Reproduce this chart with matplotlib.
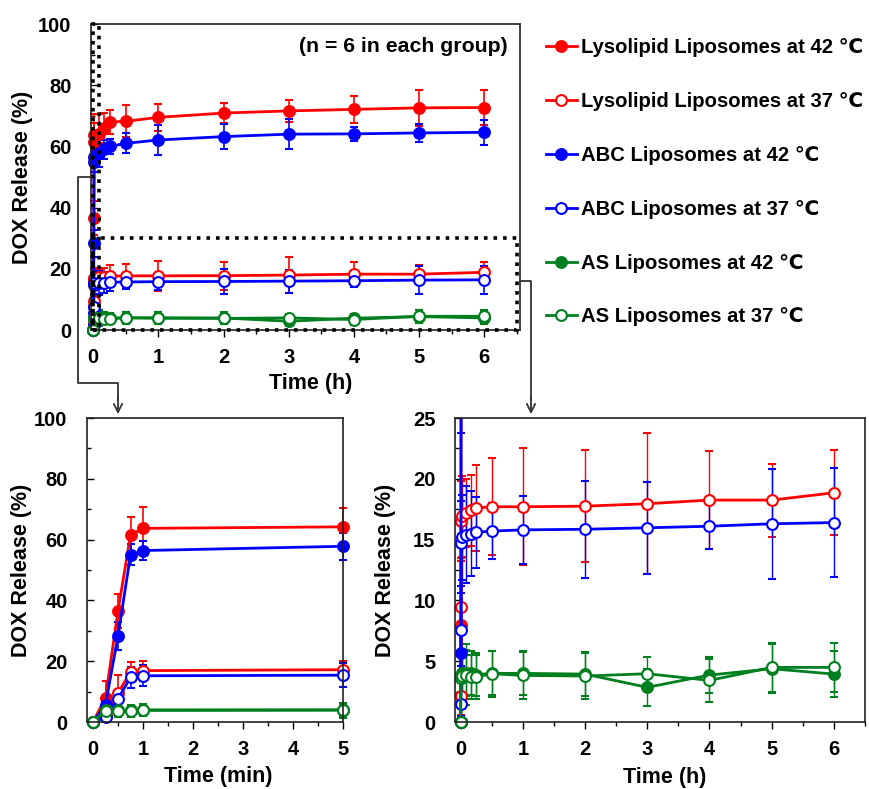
import numpy as np
import matplotlib
matplotlib.use("Agg")
import matplotlib.pyplot as plt
from matplotlib.lines import Line2D
from matplotlib.patches import Rectangle, FancyArrowPatch
from matplotlib.transforms import Bbox, TransformedBbox
from matplotlib.ticker import MultipleLocator

plt.rcParams['font.family'] = ['Liberation Sans', 'DejaVu Sans']
plt.rcParams['font.weight'] = 'bold'
plt.rcParams['axes.labelweight'] = 'bold'

# sampling times (min)
t_min = np.array([0, 0.25, 0.5, 0.75, 1, 5, 10, 15, 30, 60, 120, 180, 240, 300, 360])

# DOX release (%) and SD for each group
lyso42 = [0, 8.0, 36.5, 61.5, 63.7, 64.2, 66.0, 68.0, 68.2, 69.5, 70.9, 71.6, 72.1, 72.6, 72.7]
lyso42_sd = [0, 5.5, 5.5, 6.0, 7.0, 6.3, 5.0, 4.0, 5.2, 4.4, 3.3, 3.5, 4.4, 5.8, 5.8]
lyso37 = [0, 2.1, 9.45, 16.5, 16.9, 17.2, 17.4, 17.6, 17.7, 17.7, 17.75, 17.95, 18.25, 18.25, 18.85]
lyso37_sd = [0, 1.5, 6.0, 3.3, 3.3, 2.8, 2.9, 3.5, 4.0, 4.8, 4.6, 5.8, 4.0, 3.0, 3.5]
abc42 = [0, 5.7, 28.3, 55.0, 56.4, 57.8, 59.0, 60.0, 61.0, 62.1, 63.2, 64.0, 64.1, 64.4, 64.6]
abc42_sd = [0, 2.5, 4.5, 3.5, 3.0, 4.5, 3.0, 2.5, 3.3, 4.9, 4.2, 4.8, 2.3, 2.8, 4.0]
abc37 = [0, 1.5, 7.6, 14.7, 15.2, 15.4, 15.5, 15.6, 15.7, 15.8, 15.85, 15.97, 16.1, 16.3, 16.4]
abc37_sd = [0, 1.0, 3.0, 3.5, 3.5, 4.0, 3.5, 2.9, 2.3, 2.8, 4.0, 3.8, 1.9, 4.5, 4.5]
as42 = [0, 3.8, 3.8, 3.9, 4.0, 4.0, 4.0, 3.9, 4.0, 4.0, 3.94, 2.85, 3.86, 4.38, 3.94]
as42_sd = [0, 1.8, 1.8, 1.8, 1.8, 1.9, 1.8, 1.8, 1.8, 1.8, 1.8, 1.5, 1.5, 2.0, 1.9]
as37 = [0, 3.7, 3.6, 3.6, 3.8, 3.9, 3.7, 3.7, 3.97, 3.83, 3.78, 3.97, 3.42, 4.49, 4.49]
as37_sd = [0, 1.8, 1.8, 1.8, 1.8, 2.5, 1.8, 1.8, 1.9, 1.9, 1.9, 1.4, 1.8, 2.0, 2.0]

labels = ["Lysolipid Liposomes at 42 \u2103", "Lysolipid Liposomes at 37 \u2103",
          "ABC Liposomes at 42 \u2103", "ABC Liposomes at 37 \u2103",
          "AS Liposomes at 42 \u2103", "AS Liposomes at 37 \u2103"]

RED, BLUE, GREEN = '#ff0000', '#0000ff', '#007f1f'
groups = [
    (labels[0], lyso42, lyso42_sd, RED, True),
    (labels[1], lyso37, lyso37_sd, RED, False),
    (labels[2], abc42, abc42_sd, BLUE, True),
    (labels[3], abc37, abc37_sd, BLUE, False),
    (labels[4], as42, as42_sd, GREEN, True),
    (labels[5], as37, as37_sd, GREEN, False),
]

W, H = 870, 789
TICK_FS, LABEL_FS = 14.5, 15.5
fig = plt.figure(figsize=(W / 100, H / 100), dpi=100)


def px_axes(l, t, r, b):
    return fig.add_axes([l / W, 1 - b / H, (r - l) / W, (b - t) / H])


def draw(ax, x, n, lw=2.0, elw=1.2):
    # clip only at the top of the axes, markers sitting on the spines stay whole
    clip = TransformedBbox(Bbox([[-0.1, -0.1], [1.1, 1.0]]), ax.transAxes)
    handles = []
    for lab, y, sd, c, filled in groups:
        eb = ax.errorbar(x[:n], y[:n], yerr=sd[:n], color=c, lw=lw,
                         elinewidth=elw, capsize=3, capthick=elw,
                         marker='o', ms=7.8, mec=c, mew=1.5,
                         mfc=c if filled else 'white', label=lab)
        arts = [eb.lines[0]] + list(eb.lines[1]) + list(eb.lines[2])
        for a in arts:
            a.set_clip_path(None)
            a.set_clip_box(clip)
        handles.append(eb.lines[0])
    return handles


def style(ax, ymaj, ymin, ylab_x, xlab, xlab_y):
    ax.yaxis.set_major_locator(MultipleLocator(ymaj))
    ax.yaxis.set_minor_locator(MultipleLocator(ymin))
    ax.xaxis.set_major_locator(MultipleLocator(1))
    ax.xaxis.set_minor_locator(MultipleLocator(0.5))
    ax.tick_params(axis='y', which='both', direction='in', labelsize=TICK_FS, pad=14)
    ax.tick_params(axis='x', which='both', direction='out', labelsize=TICK_FS, pad=8)
    ax.tick_params(which='major', length=5, width=1)
    ax.tick_params(which='minor', length=3, width=1)
    for s in ax.spines.values():
        s.set_linewidth(1.2)
        s.set_color('#222222')
    ax.set_ylabel("DOX Release (%)", fontsize=LABEL_FS)
    ax.yaxis.set_label_coords(ylab_x, 0.5)
    ax.set_xlabel(xlab, fontsize=LABEL_FS)
    ax.xaxis.set_label_coords(0.512, xlab_y)


# top overview panel (hours)
ax1 = px_axes(91, 24, 520, 330)
handles = draw(ax1, t_min / 60, len(t_min))
ax1.set_xlim(-0.035, 6.55)
ax1.set_ylim(0, 100)
style(ax1, 20, 10, -0.135, "Time (h)", -0.14)
ax1.text(0.97, 0.925, "(n = 6 in each group)", transform=ax1.transAxes,
         ha='right', va='center', fontsize=15.3)
# dotted zoom boxes
ax1.add_patch(Rectangle((0, 0), 5 / 60, 100, fill=False, ls=':', lw=2.6,
                        ec='black', zorder=10, clip_on=False))
ax1.add_patch(Rectangle((0, 0), 6.5, 30, fill=False, ls=':', lw=2.6,
                        ec='black', zorder=10, clip_on=False))

# bottom-left: first 5 minutes
ax2 = px_axes(87, 418, 343, 722)
draw(ax2, t_min, 6)
ax2.set_xlim(-0.12, 5.0)
ax2.set_ylim(0, 100)
style(ax2, 20, 10, -0.215, "Time (min)", -0.145)

# bottom-right: low release range (hours)
ax3 = px_axes(455, 418, 865, 722)
draw(ax3, t_min / 60, len(t_min), lw=2.0, elw=1.0)
ax3.set_xlim(-0.09, 6.5)
ax3.set_ylim(0, 25)
style(ax3, 5, 2.5, -0.144, "Time (h)", -0.149)


def fp(x, y):
    return x / W, 1 - y / H


# connectors from the dotted boxes to the zoom panels
xs, ys = zip(fp(91, 177), fp(78, 177), fp(78, 383), fp(118, 383), fp(118, 400))
fig.add_artist(Line2D(xs, ys, transform=fig.transFigure, color='#333333', lw=1.3))
xs, ys = zip(fp(520, 281), fp(531, 281), fp(531, 400))
fig.add_artist(Line2D(xs, ys, transform=fig.transFigure, color='#333333', lw=1.3))
for x0 in (118, 531):
    fig.add_artist(FancyArrowPatch(
        fp(x0, 395), fp(x0, 417), transform=fig.transFigure,
        arrowstyle='->,head_length=6,head_width=3', color='#333333', lw=1.3,
        mutation_scale=1))

fig.legend(handles, labels, loc='upper left', bbox_to_anchor=(538 / W, 1 - 30 / H),
           frameon=False, fontsize=14.6, handlelength=1.5, handletextpad=0.2,
           labelspacing=1.72, borderaxespad=0)

fig.savefig("out.png", dpi=100)
